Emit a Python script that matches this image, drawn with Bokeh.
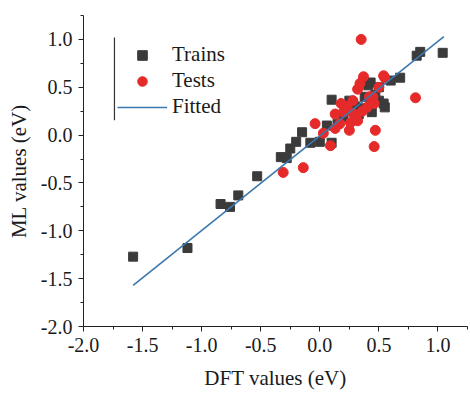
from bokeh.plotting import figure
from bokeh.models import Range1d, SingleIntervalTicker, Legend, LegendItem, PrintfTickFormatter
from bokeh.embed import file_html
from bokeh.resources import INLINE

# Training set (DFT, ML)
train_dft = [-1.58, -1.12, -0.84, -0.76, -0.69, -0.53, -0.33, -0.28, -0.25, -0.20,
             -0.15, -0.08, 0.00, 0.06, 0.10, 0.10, 0.15, 0.20, 0.25, 0.28,
             0.30, 0.33, 0.36, 0.38, 0.41, 0.43, 0.44, 0.45, 0.47, 0.50,
             0.50, 0.54, 0.55, 0.60, 0.68, 0.82, 0.85, 1.04]
train_ml = [-1.27, -1.18, -0.72, -0.75, -0.63, -0.43, -0.23, -0.24, -0.14, -0.07,
            0.03, -0.08, -0.07, 0.10, -0.08, 0.37, 0.12, 0.18, 0.36, 0.33,
            0.30, 0.22, 0.28, 0.40, 0.52, 0.55, 0.24, 0.35, 0.42, 0.50,
            0.36, 0.33, 0.29, 0.57, 0.60, 0.83, 0.87, 0.86]

# Test set (DFT, ML)
test_dft = [0.35, 0.81, 0.54, 0.37, 0.34, 0.32, 0.46, 0.47, 0.46, -0.04,
            0.03, 0.09, 0.13, 0.13, 0.18, 0.22, 0.28, 0.26, 0.25, 0.30,
            0.32, 0.28, 0.36, 0.40, 0.45, 0.50, -0.14, -0.31, 0.17, 0.42,
            0.55, 0.20, 0.23]
test_ml = [1.00, 0.39, 0.62, 0.61, 0.54, 0.48, 0.33, 0.05, -0.12, 0.12,
           0.02, -0.11, 0.07, 0.22, 0.33, 0.28, 0.23, 0.13, 0.05, 0.20,
           0.15, 0.36, 0.25, 0.29, 0.40, 0.50, -0.34, -0.39, 0.12, 0.40,
           0.60, 0.24, 0.30]

# Fitted line
fit_x = [-1.58, 1.05]
fit_y = [-1.57, 1.03]

# Legend bracket line (data units)
legend_bar_x = [-1.738]
legend_bar_y0 = [1.02]
legend_bar_y1 = [0.155]

FONT = "Liberation Serif"
TXT = "#1a1a1a"

p = figure(width=470, height=393, output_backend="svg", toolbar_location=None,
           x_range=Range1d(-2.0, 1.25), y_range=Range1d(-2.0, 1.25),
           min_border_left=83, min_border_right=3, min_border_top=15, min_border_bottom=67)
p.outline_line_color = None
p.xgrid.grid_line_color = None
p.ygrid.grid_line_color = None
p.background_fill_color = "white"
p.border_fill_color = "white"

for axes in (p.xaxis, p.yaxis):
    axes.ticker = SingleIntervalTicker(interval=0.5, num_minor_ticks=2)
    axes.formatter = PrintfTickFormatter(format="%.1f")
    axes.axis_line_color = "#222222"
    axes.axis_line_width = 1
    axes.major_tick_line_color = "#222222"
    axes.minor_tick_line_color = "#222222"
    axes.major_tick_out = 5
    axes.major_tick_in = 0
    axes.minor_tick_out = 3
    axes.minor_tick_in = 0
    axes.major_label_text_font = FONT
    axes.major_label_text_font_size = "20px"
    axes.major_label_text_color = TXT
    axes.major_label_standoff = 6
    axes.axis_label_text_font = FONT
    axes.axis_label_text_font_size = "21px"
    axes.axis_label_text_font_style = "normal"
    axes.axis_label_text_color = TXT

p.xaxis.axis_label = "DFT values (eV)"
p.yaxis.axis_label = "ML values (eV)"
p.xaxis.axis_label_standoff = 11
p.yaxis.axis_label_standoff = 7

r_train = p.scatter(train_dft, train_ml, marker="square", size=9,
                    fill_color="#3b3b3b", line_color="#3b3b3b")
r_test = p.scatter(test_dft, test_ml, marker="circle", size=10,
                   fill_color="#e62a2a", line_color="#e62a2a")
r_fit = p.line(fit_x, fit_y, line_color="#3a78b0", line_width=1.6)

p.segment(x0=legend_bar_x, y0=legend_bar_y0, x1=legend_bar_x, y1=legend_bar_y1,
          line_color="#333333", line_width=1.2)

legend = Legend(items=[LegendItem(label="Trains", renderers=[r_train]),
                       LegendItem(label="Tests", renderers=[r_test]),
                       LegendItem(label="Fitted", renderers=[r_fit])],
                location=(34, 207))
legend.border_line_color = None
legend.background_fill_alpha = 0
legend.padding = 0
legend.margin = 0
legend.spacing = 1
legend.glyph_width = 50
legend.glyph_height = 24
legend.label_height = 24
legend.label_standoff = 5
legend.label_text_font = FONT
legend.label_text_font_size = "21px"
legend.label_text_color = TXT
p.add_layout(legend)

open("out.html", "w").write(file_html(p, INLINE))
